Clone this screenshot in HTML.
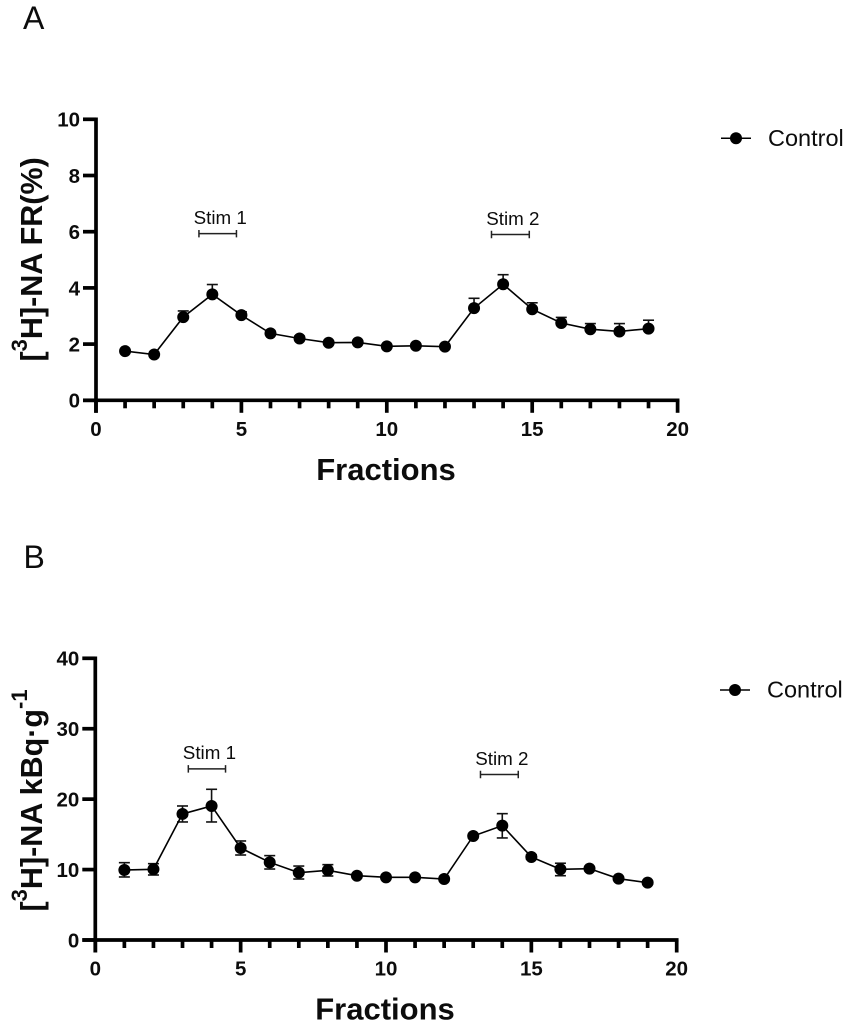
<!DOCTYPE html>
<html lang="en">
<head>
<meta charset="utf-8">
<title>Fractional release charts</title>
<style>
html,body{margin:0;padding:0;background:#fff;}
svg{display:block;}
text{font-family:"Liberation Sans",Arial,sans-serif;fill:#0c0c0c;}
</style>
</head>
<body>
<svg id="figure" xmlns="http://www.w3.org/2000/svg" width="851" height="1030" viewBox="0 0 851 1030"></svg>
<script>
const fractions = [1,2,3,4,5,6,7,8,9,10,11,12,13,14,15,16,17,18,19];
const xTickLabels = [0,5,10,15,20];
const minorXTicks = [1,2,3,4,6,7,8,9,11,12,13,14,16,17,18,19];

const frValues = [1.75,1.63,2.96,3.77,3.03,2.38,2.20,2.05,2.06,1.92,1.94,1.91,3.28,4.13,3.24,2.75,2.53,2.45,2.55];
const frUpper = [1.75,1.63,3.18,4.12,3.15,2.45,2.28,2.10,2.12,1.98,2.00,1.96,3.63,4.47,3.47,2.95,2.73,2.73,2.85];
const frYTicks = [0,2,4,6,8,10];
const frStim1 = [3.54,4.83,5.93];
const frStim2 = [13.6,14.9,5.9];

const kbqValues = [9.94,10.04,17.9,19.03,13.07,11.03,9.56,9.9,9.13,8.9,8.9,8.66,14.77,16.24,11.79,10.04,10.13,8.71,8.14];
const kbqUpper = [10.98,10.84,19.03,21.4,14.06,11.98,10.5,10.7,9.4,9.1,9.1,8.85,15.0,17.94,12.1,10.9,10.4,8.9,8.35];
const kbqLower = [8.95,9.23,16.76,16.76,12.07,10.08,8.66,9.09,8.86,8.7,8.7,8.47,14.54,14.49,11.48,9.13,9.86,8.52,7.93];
const kbqYTicks = [0,10,20,30,40];
const kbqStim1 = [3.2,4.48,24.3];
const kbqStim2 = [13.25,14.55,23.5];

const svg = document.getElementById('figure');
const NS = 'http://www.w3.org/2000/svg';

function make(tag, parent, props, content) {
  const el = document.createElementNS(NS, tag);
  for (const k in props) el.setAttribute(k, props[k]);
  if (content !== undefined) el.textContent = content;
  parent.appendChild(el);
  return el;
}

function drawPanel(p) {
  const sx = v => p.x0 + (v / 20) * (p.x20 - p.x0);
  const sy = v => p.y0 - (v / p.yMax) * (p.y0 - p.yTop);
  const AXW = 3.7;

  const group = make('g', svg, {});
  
  

  const letter = make('text', group, {x: p.letterX, y: p.letterY, 'font-size': 32}, p.letter);
  
  

  // axes
  const yAxis = make('line', group, {x1: p.x0, x2: p.x0, y1: p.yTop - AXW / 2, y2: p.y0 + 12.5, stroke: '#000', 'stroke-width': AXW});
  
  

  const xAxis = make('line', group, {x1: p.x0 - 13, x2: sx(20) + AXW / 2, y1: p.y0, y2: p.y0, stroke: '#000', 'stroke-width': AXW});
  
  

  p.yTicks.forEach(v => {
    const tick = make('line', group, {x1: p.x0 - 13, x2: p.x0, y1: sy(v), y2: sy(v), stroke: '#000', 'stroke-width': AXW});
    
    
    const label = make('text', group, {x: p.x0 - 16, y: sy(v) + 7.4, 'font-size': 20.5, 'font-weight': 'bold', 'text-anchor': 'end'}, v);
    
    
  });

  xTickLabels.forEach(v => {
    const tick = make('line', group, {x1: sx(v), x2: sx(v), y1: p.y0, y2: p.y0 + 12.5, stroke: '#000', 'stroke-width': AXW});
    
    
    const label = make('text', group, {x: sx(v), y: p.y0 + 35.5, 'font-size': 20.5, 'font-weight': 'bold', 'text-anchor': 'middle'}, v);
    
    
  });

  minorXTicks.forEach(v => {
    const tick = make('line', group, {x1: sx(v), x2: sx(v), y1: p.y0, y2: p.y0 + 8, stroke: '#000', 'stroke-width': AXW});
    
    
  });

  const xTitle = make('text', group, {x: p.xTitleX, y: p.y0 + 79.5, 'font-size': 31, 'font-weight': 'bold', 'text-anchor': 'middle'}, 'Fractions');
  
  

  const yTitle = make('text', group, {transform: 'translate(41.8 ' + p.yTitleY + ') rotate(-90)', 'font-size': 30.5, 'font-weight': 'bold'});
  
  
  p.yTitleParts.forEach(part => {
    make('tspan', yTitle, {'font-size': part[1] ? 22 : 30.5, dy: part[1] ? -14.8 : part[2] || 0}, part[0]);
  });

  // error bars
  fractions.forEach((f, i) => {
    const ends = [p.upper[i]];
    if (p.lower) ends.push(p.lower[i]);
    ends.forEach(e => {
      const stem = make('line', group, {x1: sx(f), x2: sx(f), y1: sy(p.values[i]), y2: sy(e), stroke: '#111', 'stroke-width': 1.6});
      
      
      const cap = make('line', group, {x1: sx(f) - 5.5, x2: sx(f) + 5.5, y1: sy(e), y2: sy(e), stroke: '#111', 'stroke-width': 1.6});
      
      
    });
  });

  // series line
  const pts = fractions.map((f, i) => sx(f) + ',' + sy(p.values[i])).join(' ');
  const line = make('polyline', group, {points: pts, fill: 'none', stroke: '#000', 'stroke-width': 1.6});
  
  

  fractions.forEach((f, i) => {
    const dot = make('circle', group, {cx: sx(f), cy: sy(p.values[i]), r: 6, fill: '#000'});
    
    
  });

  // stimulation brackets
  [[p.stim1, 'Stim 1'], [p.stim2, 'Stim 2']].forEach(s => {
    const a = sx(s[0][0]), b = sx(s[0][1]), y = sy(s[0][2]);
    const bracket = make('path', group, {d: 'M' + a + ' ' + (y - 3.7) + 'V' + (y + 3.7) + 'M' + a + ' ' + y + 'H' + b + 'M' + b + ' ' + (y - 3.7) + 'V' + (y + 3.7), fill: 'none', stroke: '#222', 'stroke-width': 1.5});
    
    
    const label = make('text', group, {x: (a + b) / 2 + 2.5, y: y - 9.7, 'font-size': 18.8, 'text-anchor': 'middle'}, s[1]);
    
    
  });

  // legend
  const legend = make('g', group, {});
  
  
  make('line', legend, {x1: p.legX, x2: p.legX + 30, y1: p.legY, y2: p.legY, stroke: '#000', 'stroke-width': 1.5});
  make('circle', legend, {cx: p.legX + 15, cy: p.legY, r: 6, fill: '#000'});
  make('text', legend, {x: p.legX + 47, y: p.legY + 7.6, 'font-size': 23.5}, 'Control');
}

drawPanel({
  id: 'a', letter: 'A', letterX: 23, letterY: 29,
  x0: 96, x20: 677.6, y0: 400.3, yTop: 119.3, yMax: 10,
  yTicks: frYTicks, values: frValues, upper: frUpper, lower: null,
  stim1: frStim1, stim2: frStim2,
  xTitleX: 386, yTitleY: 361.5,
  yTitleParts: [['[',0],['3',1],['H]-NA FR(%)',0,14.8]],
  legX: 721, legY: 138.3
});

drawPanel({
  id: 'b', letter: 'B', letterX: 23.5, letterY: 568,
  x0: 95.3, x20: 676.7, y0: 940, yTop: 658.3, yMax: 40,
  yTicks: kbqYTicks, values: kbqValues, upper: kbqUpper, lower: kbqLower,
  stim1: kbqStim1, stim2: kbqStim2,
  xTitleX: 385, yTitleY: 911.5,
  yTitleParts: [['[',0],['3',1],['H]-NA kBq·g',0,14.8],['-1',1]],
  legX: 720, legY: 690
});
</script>
</body>
</html>
